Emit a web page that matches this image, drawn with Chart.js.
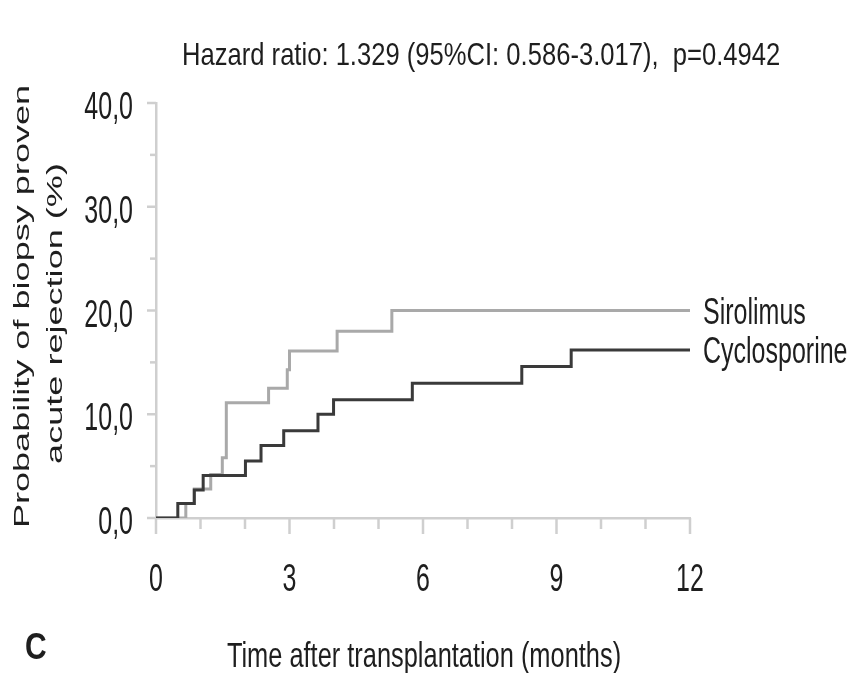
<!DOCTYPE html>
<html>
<head>
<meta charset="utf-8">
<script src="https://cdn.jsdelivr.net/npm/chart.js@4"></script>
<style>
  html, body { margin: 0; padding: 0; background: #fff; }
  #wrap { width: 851px; height: 673px; }
</style>
</head>
<body>
<div id="wrap"><canvas id="km" width="851" height="673"></canvas></div>
<script>
// Kaplan-Meier steps (months, cumulative %)
const monthsCyclo = [0, 0.49, 0.86, 1.06, 2.01, 2.36, 2.87, 3.64, 3.99, 5.76, 8.22, 9.33, 12];
const pctCyclo    = [0, 1.4, 2.7, 4.1, 5.5, 7.0, 8.4, 10.0, 11.4, 13.0, 14.6, 16.2, 16.2];
const monthsSiro  = [0, 0.67, 0.86, 1.23, 1.49, 1.58, 2.53, 2.95, 3.0, 4.07, 5.3, 12];
const pctSiro     = [0, 1.4, 2.8, 4.2, 5.8, 11.1, 12.5, 14.3, 16.1, 18.0, 20.0, 20.0];

const seriesNames = ['Cyclosporine', 'Sirolimus'];
const xTickLabels = [0, 3, 6, 9, 12];
const yTickLabels = [0, 10, 20, 30, 40];
const titleText = 'Hazard ratio: 1.329 (95%CI: 0.586-3.017),  p=0.4942';
const xTitle = 'Time after transplantation (months)';
const yTitle = ['Probability of biopsy proven', 'acute rejection (%)'];
const panelLetter = 'C';

const FONT = '"Liberation Sans", Arial, sans-serif';
const TEXT = '#1e1e1e';
const AXIS = '#cfcfcf';

function toPoints(xs, ys) {
  return xs.map((x, i) => ({ x: x, y: ys[i] }));
}

// text drawn with a vertical stretch, like the scanned figure
function stretchText(ctx, txt, x, y, sy, align, baseline, font) {
  ctx.save();
  ctx.font = font;
  ctx.fillStyle = TEXT;
  ctx.translate(x, y);
  ctx.scale(1, sy);
  ctx.textAlign = align;
  ctx.textBaseline = baseline;
  ctx.fillText(txt, 0, 0);
  ctx.restore();
}

const figureText = {
  id: 'figureText',
  afterDraw(chart) {
    const ctx = chart.ctx;
    const xs = chart.scales.x, ys = chart.scales.y;
    const axisY = ys.getPixelForValue(0);
    const axisX = xs.getPixelForValue(0);

    // ticks: long at labelled values, short between
    ctx.save();
    ctx.strokeStyle = AXIS;
    ctx.lineWidth = 2.5;
    for (let m = 0; m <= 12; m++) {
      const px = xs.getPixelForValue(m);
      ctx.beginPath();
      ctx.moveTo(px, axisY);
      ctx.lineTo(px, axisY + (m % 3 === 0 ? 16 : 11));
      ctx.stroke();
    }
    for (let v = 0; v <= 40; v += 5) {
      const py = ys.getPixelForValue(v);
      ctx.beginPath();
      ctx.moveTo(axisX - (v % 10 === 0 ? 9 : 6), py);
      ctx.lineTo(axisX, py);
      ctx.stroke();
    }
    ctx.restore();

    // tick labels
    xTickLabels.forEach(v => {
      stretchText(ctx, String(v), xs.getPixelForValue(v), 591, 1.55, 'center', 'alphabetic', '25px ' + FONT);
    });
    yTickLabels.forEach(v => {
      stretchText(ctx, v.toFixed(1).replace('.', ','), 133, ys.getPixelForValue(v) + 16, 1.55, 'right', 'alphabetic', '25px ' + FONT);
    });

    // end-of-curve labels
    chart.data.datasets.forEach((ds, i) => {
      const last = ds.data[ds.data.length - 1];
      const py = ys.getPixelForValue(last.y);
      stretchText(ctx, seriesNames[i], 703, py + 13, 1.5, 'left', 'alphabetic', '25px ' + FONT);
    });

    // title, axis titles, panel letter
    stretchText(ctx, titleText, 182, 65, 1.2, 'left', 'alphabetic', '25.6px ' + FONT);
    stretchText(ctx, xTitle, (chart.chartArea.left + chart.chartArea.right) / 2 + 1, 667, 1.4, 'center', 'alphabetic', '25.4px ' + FONT);
    stretchText(ctx, panelLetter, 25, 659, 1.2, 'left', 'alphabetic', 'bold 30px ' + FONT);

    const cy = (chart.chartArea.top + chart.chartArea.bottom) / 2;
    [[23, cy - 4], [56, cy + 3]].forEach((pos, i) => {
      ctx.save();
      ctx.font = '22px ' + FONT;
      ctx.fillStyle = TEXT;
      ctx.translate(pos[0], pos[1]);
      ctx.rotate(-Math.PI / 2);
      ctx.scale(1.64, 1);
      ctx.textAlign = 'center';
      ctx.textBaseline = 'middle';
      ctx.fillText(yTitle[i], 0, 0);
      ctx.restore();
    });
  }
};

new Chart(document.getElementById('km'), {
  type: 'line',
  data: {
    datasets: [{
      label: seriesNames[0],
      data: toPoints(monthsCyclo, pctCyclo),
      borderColor: '#3a3a3a',
      borderWidth: 3,
      stepped: true,
      pointRadius: 0,
      fill: false
    }, {
      label: seriesNames[1],
      data: toPoints(monthsSiro, pctSiro),
      borderColor: '#a9a9a9',
      borderWidth: 3,
      stepped: true,
      pointRadius: 0,
      fill: false
    }]
  },
  options: {
    responsive: false,
    animation: false,
    events: [],
    layout: { padding: { left: 0, top: 103, right: 161, bottom: 0 } },
    plugins: {
      legend: { display: false },
      tooltip: { enabled: false }
    },
    scales: {
      x: {
        type: 'linear',
        min: 0,
        max: 12,
        ticks: { display: false, stepSize: 1 },
        grid: { display: false },
        border: { display: true, color: AXIS, width: 2.5 },
        afterFit: (scale) => { scale.height = 155; }
      },
      y: {
        type: 'linear',
        min: 0,
        max: 40,
        ticks: { display: false, stepSize: 5 },
        grid: { display: false },
        border: { display: true, color: AXIS, width: 2.5 },
        afterFit: (scale) => { scale.width = 156; }
      }
    }
  },
  plugins: [figureText]
});
</script>
</body>
</html>
